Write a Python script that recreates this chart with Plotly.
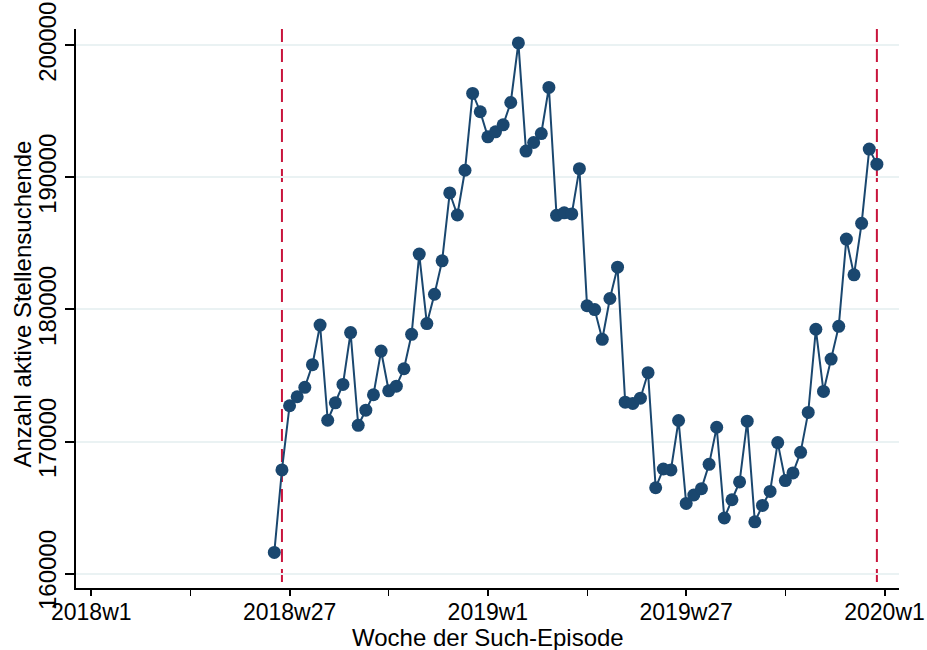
import plotly.graph_objects as go

# Weekly count of active job seekers, 2018w25 - 2019w52
weeks = [f"2018w{w}" for w in range(25, 53)] + [f"2019w{w}" for w in range(1, 53)]
job_seekers = [
    161600, 167850, 172710, 173390, 174100, 175820, 178820, 171610,
    172930, 174320, 178250, 171230, 172370, 173540, 176850, 173840,
    174190, 175510, 178120, 184190, 178930, 181150, 183680, 188820,
    187150, 190540, 196360, 194970,
    193070, 193450, 193980, 195670, 200180, 191990, 192640, 193320,
    196810, 187130, 187320, 187230, 190660, 180280, 179990, 177740,
    180830, 183200, 172980, 172880, 173280, 175210, 166500, 167920,
    167850, 171590, 165310, 165950, 166430, 168270, 171080, 164210,
    165590, 166940, 171540, 163920, 165160, 166220, 169920, 167040,
    167620, 169180, 172200, 178500, 173790, 176240, 178720, 185330,
    182620, 186520, 192140, 191000,
]

tick_labels = ["2018w1", "2018w27", "2019w1", "2019w27", "2020w1"]
y_ticks = [160000, 170000, 180000, 190000, 200000]
episode_bounds = ["2018w26", "2019w52"]
x_title = "Woche der Such-Episode"
y_title = "Anzahl aktive Stellensuchende"


def week_num(label):
    """Running week index with 2018w1 = 0 (52 weeks per year)."""
    year, wk = label.split("w")
    return (int(year) - 2018) * 52 + int(wk) - 1


x_vals = [week_num(w) for w in weeks]
tick_pos = [week_num(t) for t in tick_labels]

navy = "#1A476F"
red = "#C8143C"
grid = "#EAF2F3"
font_family = "Liberation Sans, Arial, sans-serif"

fig = go.Figure()
fig.add_trace(go.Scatter(
    x=x_vals, y=job_seekers, customdata=weeks,
    mode="lines+markers",
    line=dict(color=navy, width=2),
    marker=dict(color=navy, size=13),
    hovertemplate="%{customdata}: %{y}<extra></extra>",
    showlegend=False,
))

# dashed markers for the start and end of the observation window
for wk in episode_bounds:
    fig.add_shape(
        type="line", xref="x", yref="paper",
        x0=week_num(wk), x1=week_num(wk), y0=1, y1=0,
        line=dict(color=red, width=2, dash="13px,7px"),
        layer="between",
    )

# axis titles placed as annotations for exact spacing
fig.add_annotation(
    text=x_title, xref="paper", yref="paper", x=0.5, y=0,
    xanchor="center", yanchor="middle", yshift=-49, showarrow=False,
    font=dict(size=24),
)
fig.add_annotation(
    text=y_title, xref="paper", yref="paper", x=0, y=0.5,
    xanchor="center", yanchor="middle", xshift=-54, yshift=4,
    textangle=-90, showarrow=False, font=dict(size=24),
)

fig.update_layout(
    width=927, height=650,
    margin=dict(l=76, r=28, t=29, b=62),
    paper_bgcolor="white", plot_bgcolor="white",
    font=dict(family=font_family, size=23, color="black"),
    xaxis=dict(
        range=[-2.0, 105.9], automargin=False,
        tickmode="array", tickvals=tick_pos, ticktext=tick_labels,
        ticks="outside", ticklen=6, tickwidth=1.5, tickcolor="black",
        ticklabelstandoff=-3,
        minor=dict(tickmode="linear", tick0=13, dtick=26,
                   ticks="outside", ticklen=6, tickwidth=1, tickcolor="black"),
        showline=True, linecolor="black", linewidth=1.5,
        showgrid=False, zeroline=False,
        tickfont=dict(size=23),
    ),
    yaxis=dict(
        range=[158909, 201235], automargin=False,
        tickmode="array", tickvals=y_ticks, ticktext=[str(v) for v in y_ticks],
        tickangle=-90,
        ticks="outside", ticklen=9, tickwidth=1.5, tickcolor="black",
        showline=True, linecolor="black", linewidth=1.5,
        showgrid=True, gridcolor=grid, gridwidth=1.5, zeroline=False,
        tickfont=dict(size=24),
    ),
)

fig.write_html("out.html")
